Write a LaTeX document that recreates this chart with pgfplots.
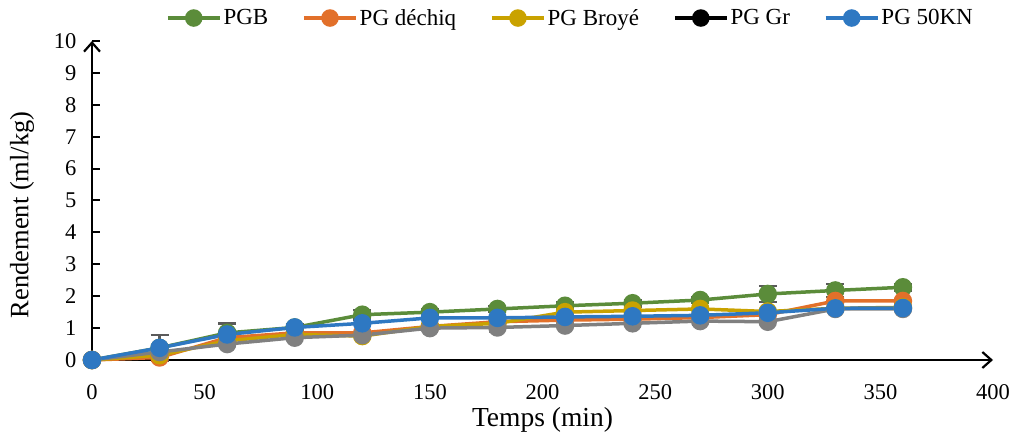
\documentclass[border=0pt]{standalone}
\usepackage{pgfplots}
\pgfplotsset{compat=1.18}
\usepackage{fontspec}
\setmainfont{Liberation Serif}
\usetikzlibrary{arrows.meta}
\definecolor{cgreen}{HTML}{5B8C3A}
\definecolor{corange}{HTML}{E2702A}
\definecolor{cgold}{HTML}{C9A200}
\definecolor{cblue}{HTML}{2E78C2}
\definecolor{cgray}{HTML}{808080}
\definecolor{cerr}{HTML}{5A5A5A}
\begin{document}
\begin{tikzpicture}
\begin{axis}[
  at={(0,0)}, anchor=origin,
  scale only axis, width=901pt, height=319pt,
  xmin=0, xmax=400, ymin=0, ymax=10,
  axis lines=left,
  axis line style={line width=2.2pt, -{Straight Barb[length=9pt,width=16pt,line width=2.2pt]}},
  xtick={0,50,...,400}, ytick={0,1,...,10},
  xtick style={draw=none},
  ytick style={line width=2pt, black},
  tick align=inside, major tick length=8pt,
  /pgf/number format/assume math mode=true,
  tick label style={font=\fontsize{22.5}{26}\selectfont},
  xticklabel style={anchor=center, yshift=-32pt},
  yticklabel style={anchor=east, xshift=-12pt},
  xlabel={Temps (min)}, ylabel={Rendement (ml/kg)},
  label style={font=\fontsize{27.5}{31}\selectfont},
  xlabel style={at={(axis description cs:0.5,0)}, anchor=center, yshift=-60pt},
  ylabel style={at={(axis description cs:-0.0777,0.455)}, anchor=center, font=\fontsize{26.5}{30}\selectfont},
  clip=false,
  every axis plot/.append style={line width=3.5pt, mark=*, mark size=7.5pt, mark options={solid}},
  legend columns=5,
  legend style={at={(0.531,1.072)}, anchor=center, draw=none, fill=none,
    font=\fontsize{23}{27}\selectfont,
    /tikz/every even column/.append style={column sep=32pt}},
  legend image code/.code={%
    \draw[#1, line width=3.5pt] (0pt,0pt) -- (52pt,0pt);
    \draw[#1, mark size=7pt] plot coordinates {(26pt,0pt)};},
]
\addplot[cgreen, error bars/.cd, y dir=both, y explicit, error bar style={cerr, line width=2.5pt}, error mark options={rotate=90, mark size=9pt, cerr, line width=2.5pt}]
  coordinates {(0,0) +- (0,0) (30,0.38) +- (0,0.4) (60,0.85) +- (0,0.3) (90,1.02) +- (0,0.1)
  (120,1.42) +- (0,0.15) (150,1.5) +- (0,0.1) (180,1.6) +- (0,0.1) (210,1.7) +- (0,0.1)
  (240,1.78) +- (0,0.1) (270,1.88) +- (0,0.1) (300,2.07) +- (0,0.25) (330,2.18) +- (0,0.2) (360,2.28) +- (0,0.1)};
\addlegendentry{PGB}
\addplot[corange] coordinates {(0,0) (30,0.08) (60,0.7) (90,0.85) (120,0.85) (150,1.05) (180,1.2) (210,1.25) (240,1.28) (270,1.33) (300,1.42) (330,1.85) (360,1.85)};
\addlegendentry{PG déchiq}
\addplot[cgold] coordinates {(0,0) (30,0.15) (60,0.6) (90,0.8) (120,0.75) (150,1.05) (180,1.15) (210,1.5) (240,1.55) (270,1.6) (300,1.52) (330,1.62) (360,1.65)};
\addlegendentry{PG Broyé}
\addlegendimage{black, line width=3.5pt, mark=*}
\addlegendentry{PG Gr}
\addplot[cgray, forget plot, error bars/.cd, y dir=both, y explicit, error bar style={cgray, line width=2.5pt}, error mark options={rotate=90, mark size=8pt, cgray, line width=2.5pt}]
  coordinates {(0,0) +- (0,0) (30,0.25) +- (0,0.1) (60,0.5) +- (0,0.1) (90,0.7) +- (0,0.08) (120,0.78) +- (0,0.1)
  (150,1.0) +- (0,0.1) (180,1.02) +- (0,0.12) (210,1.08) +- (0,0.1) (240,1.15) +- (0,0.1) (270,1.22) +- (0,0.1)
  (300,1.2) +- (0,0.1) (330,1.6) +- (0,0.05) (360,1.6) +- (0,0.05)};
\addplot[cblue] coordinates {(0,0) (30,0.38) (60,0.8) (90,1.02) (120,1.15) (150,1.32) (180,1.32) (210,1.35) (240,1.37) (270,1.4) (300,1.48) (330,1.62) (360,1.63)};
\addlegendentry{PG 50KN}
\end{axis}
\pgfresetboundingbox
\useasboundingbox (-92pt,-74pt) rectangle (929pt,360pt);
\end{tikzpicture}
\end{document}
